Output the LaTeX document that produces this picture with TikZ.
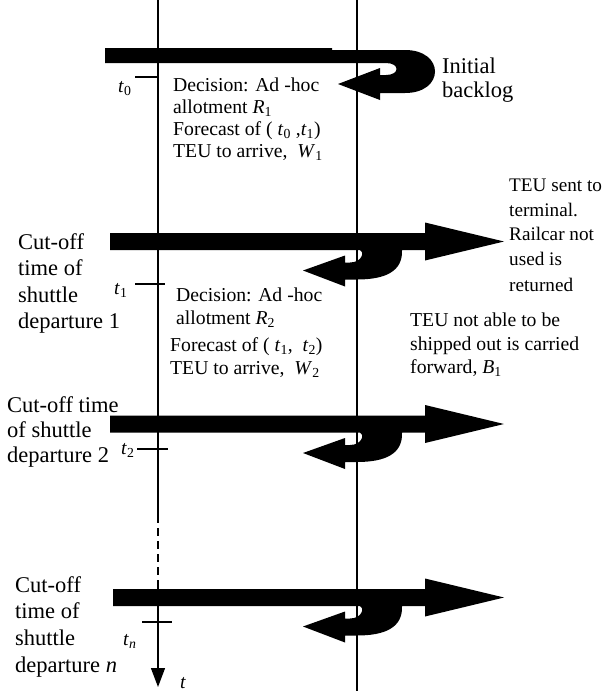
\documentclass[tikz,border=0pt]{standalone}
\usepackage{fontspec}
\setmainfont{Liberation Serif}
\usetikzlibrary{arrows.meta}
\newcommand\vs[2]{\textit{#1}\textsubscript{#2}}
\begin{document}
\begin{tikzpicture}[x=1pt,y=-1pt,
  mid/.style={font=\fontsize{19.7}{22}\selectfont, anchor=base west, inner sep=0pt},
  rgt/.style={font=\fontsize{19.2}{24}\selectfont, anchor=base west, inner sep=0pt},
  lbl/.style={font=\fontsize{22.5}{27}\selectfont, anchor=base west, inner sep=0pt},
  axisline/.style={line width=1.3pt},
  ticklne/.style={line width=1.1pt},
  bigarrow/.style={fill=black}]
\useasboundingbox (0,0) rectangle (605,691);
% time axis
\coordinate (a0) at (158,0);
\coordinate (ad1) at (158,515);
\coordinate (ad2) at (158,588);
\coordinate (aend) at (158,687);
\draw[axisline] (a0) -- (ad1);
\draw[axisline,dash pattern=on 8pt off 5pt] (ad1) -- (ad2);
\draw[axisline,-{Triangle[length=19pt,width=14pt]}] (ad2) -- (aend);
\node[mid] (tlab) at (180,688) {\textit{t}};
% terminal line
\coordinate (b0) at (357,0);
\coordinate (b1) at (357,691);
\draw[line width=1.1pt] (b0) -- (b1);
% ticks
\coordinate (k0a) at (135,77);  \coordinate (k0b) at (158,77);
\coordinate (k1a) at (135,284); \coordinate (k1b) at (165,284);
\coordinate (k2a) at (137,449); \coordinate (k2b) at (168,449);
\coordinate (kna) at (142,622); \coordinate (knb) at (172,622);
\draw[ticklne] (k0a) -- (k0b);
\draw[ticklne] (k1a) -- (k1b);
\draw[ticklne] (k2a) -- (k2b);
\draw[ticklne] (kna) -- (knb);
\node[mid] (t0) at (118,92) {\vs{t}{0}};
\node[mid] (t1) at (114,294) {\vs{t}{1}};
\node[mid] (t2) at (121,454) {\vs{t}{2}};
\node[mid] (tn) at (123,645) {\textit{t}\textsubscript{\textit{n}}};
% initial backlog arrow
\fill[bigarrow] (105,48) -- (332,48) -- (332,50) -- (405,50)
  .. controls (445,50) and (445,93) .. (405,93) -- (380,93) -- (380,100)
  -- (338,84) -- (380,68) -- (380,75) -- (386,75)
  .. controls (400,75) and (400,63) .. (386,63) -- (105,63) -- cycle;
% departure arrows
\foreach \Y/\L in {241.5/110, 424/110, 597.5/113}{
  \begin{scope}[shift={(0,\Y)}]
  \fill[bigarrow] (\L,-8.5) -- (425,-8.5) -- (425,-19) -- (504,0) -- (425,19)
    -- (425,8.5) -- (402,8.5) .. controls (403,30) and (385,38) .. (357,38)
    -- (345,38) -- (345,45) -- (303,29) -- (345,14) -- (345,21) -- (350,21)
    .. controls (362,21) and (365,10) .. (360,8.5) -- (\L,8.5) -- cycle;
  \end{scope}
}
% texts
\node[lbl] (ib1) at (442,73) {Initial};
\node[lbl] (ib2) at (442,97) {backlog};
\node[mid] (d1a) at (173,91) {Decision: Ad -hoc};
\node[mid] (d1b) at (173,113) {allotment \vs{R}{1}};
\node[mid] (d1c) at (173,135) {Forecast of ( \vs{t}{0} ,\vs{t}{1})};
\node[mid] (d1d) at (173,157) {TEU to arrive, \ \vs{W}{1}};
\node[mid] (d2a) at (176,301) {Decision: Ad -hoc};
\node[mid] (d2b) at (176,324) {allotment \vs{R}{2}};
\node[mid] (d2c) at (170,351) {Forecast of ( \vs{t}{1}, \ \vs{t}{2})};
\node[mid] (d2d) at (170,374) {TEU to arrive, \ \vs{W}{2}};
\node[rgt] (r1) at (509,191) {TEU sent to};
\node[rgt] (r2) at (509,216) {terminal.};
\node[rgt] (r3) at (509,240) {Railcar not};
\node[rgt] (r4) at (509,265) {used is};
\node[rgt] (r5) at (509,291) {returned};
\node[mid] (c1) at (410,326) {TEU not able to be};
\node[mid] (c2) at (410,350) {shipped out is carried};
\node[mid] (c3) at (410,373) {forward, \vs{B}{1}};
\node[lbl] (p1a) at (18,249) {Cut-off};
\node[lbl] (p1b) at (18,275) {time of};
\node[lbl] (p1c) at (18,302) {shuttle};
\node[lbl] (p1d) at (18,328) {departure 1};
\node[lbl] (p2a) at (7,412) {Cut-off time};
\node[lbl] (p2b) at (7,437) {of shuttle};
\node[lbl] (p2c) at (7,462) {departure 2};
\node[lbl] (pna) at (15,592) {Cut-off};
\node[lbl] (pnb) at (15,618) {time of};
\node[lbl] (pnc) at (15,645) {shuttle};
\node[lbl] (pnd) at (15,672) {departure \textit{n}};
\end{tikzpicture}
\end{document}
